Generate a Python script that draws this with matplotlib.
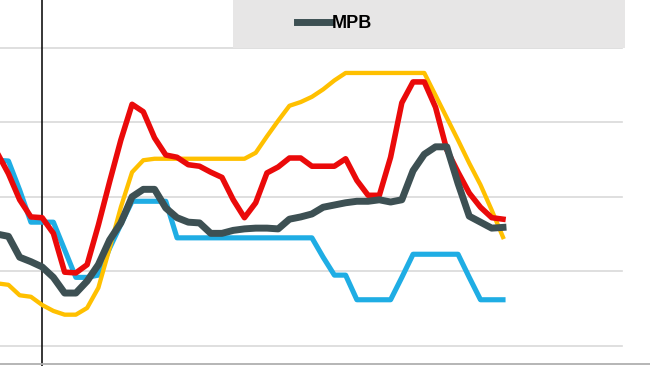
import numpy as np
import matplotlib
matplotlib.use("Agg")
import matplotlib.pyplot as plt
from matplotlib.patches import Rectangle
from matplotlib.lines import Line2D

# weekly points, index 0..45 (chart is cropped on the left)
weeks = np.arange(46)

blue = [24.9, 24.8, 20.9, 16.6, 16.6, 16.6, 12.9, 9.2, 9.2, 9.5,
        13.1, 16.3, 19.4, 19.4, 19.4, 19.4, 14.5, 14.5, 14.5, 14.5,
        14.5, 14.5, 14.5, 14.5, 14.5, 14.5, 14.5, 14.5, 14.5, 11.9,
        9.5, 9.5, 6.2, 6.2, 6.2, 6.2, 9.2, 12.3, 12.3, 12.3,
        12.3, 12.3, 9.2, 6.2, 6.2, 6.2]

yellow = [8.4, 8.2, 6.8, 6.6, 5.5, 4.7, 4.2, 4.2, 5.1, 7.8,
          13.1, 18.6, 23.3, 24.9, 25.1, 25.1, 25.1, 25.1, 25.1, 25.1,
          25.1, 25.1, 25.1, 25.9, 28.1, 30.2, 32.2, 32.7, 33.4, 34.4,
          35.6, 36.6, 36.6, 36.6, 36.6, 36.6, 36.6, 36.6, 36.6, 33.6,
          30.6, 27.6, 24.5, 21.6, 18.2, 14.6]

red = [25.9, 23.1, 19.6, 17.3, 17.2, 15.1, 9.9, 9.8, 10.9, 16.2,
       22.0, 27.6, 32.4, 31.4, 27.9, 25.6, 25.3, 24.3, 24.1, 23.3,
       22.6, 19.6, 17.2, 19.2, 23.2, 24.0, 25.2, 25.2, 24.1, 24.1,
       24.1, 25.1, 22.2, 20.2, 20.2, 25.3, 32.6, 35.4, 35.4, 32.0,
       26.3, 23.3, 20.5, 18.6, 17.2, 17.0]

mpb = [15.0, 14.7, 11.9, 11.3, 10.6, 9.2, 7.1, 7.1, 8.7, 10.9,
       14.2, 16.5, 20.0, 21.0, 21.0, 18.5, 17.2, 16.6, 16.5, 15.1,
       15.1, 15.5, 15.7, 15.8, 15.8, 15.7, 17.0, 17.3, 17.7, 18.6,
       18.9, 19.2, 19.4, 19.4, 19.6, 19.3, 19.6, 23.5, 25.7, 26.7,
       26.7, 21.8, 17.4, 16.6, 15.8, 15.9]

grid_levels = [0, 10, 20, 30, 40]

fig = plt.figure(figsize=(6.5, 3.66), dpi=100)
ax = fig.add_axes([0, 0, 1, 1])
ax.set_xlim(0.25, 58.08)
ax.set_ylim(-2.68, 46.38)
ax.axis("off")

for g in grid_levels:
    ax.axhline(g, xmin=0, xmax=0.957, color="#d9d9d9", lw=1.2, zorder=1)

ax.axvline(4, color="black", lw=1.1, zorder=1)

ax.plot(weeks, blue, color="#1fade4", lw=3.7, zorder=3, solid_joinstyle="round")
ax.plot(weeks, yellow, color="#ffc000", lw=3.1, zorder=4, solid_joinstyle="round")
ax.plot(weeks, red, color="#ea0a0a", lw=4.0, zorder=5, solid_joinstyle="round")
line_mpb, = ax.plot(weeks, mpb, color="#3d5053", lw=5.0, zorder=6,
                    solid_joinstyle="round", label="MPB")

# legend area (grey box at the top)
ax.add_patch(Rectangle((233 / 650, 1 - 48 / 366), 392 / 650, 48 / 366,
                       transform=fig.transFigure, facecolor="#e7e6e6",
                       edgecolor="none", zorder=7, clip_on=False))
fig.add_artist(Line2D([0, 1], [0.005, 0.005], color="#b0b0b0", lw=1.3))

leg = ax.legend(handles=[line_mpb], loc="center left",
                bbox_to_anchor=(288 / 650, 1 - 24 / 366),
                bbox_transform=fig.transFigure, frameon=False,
                handlelength=1.9, handletextpad=0.05, borderpad=0,
                prop={"family": "Liberation Sans", "weight": "bold", "size": 13})
leg.set_zorder(8)

fig.savefig("out.png", dpi=100)
